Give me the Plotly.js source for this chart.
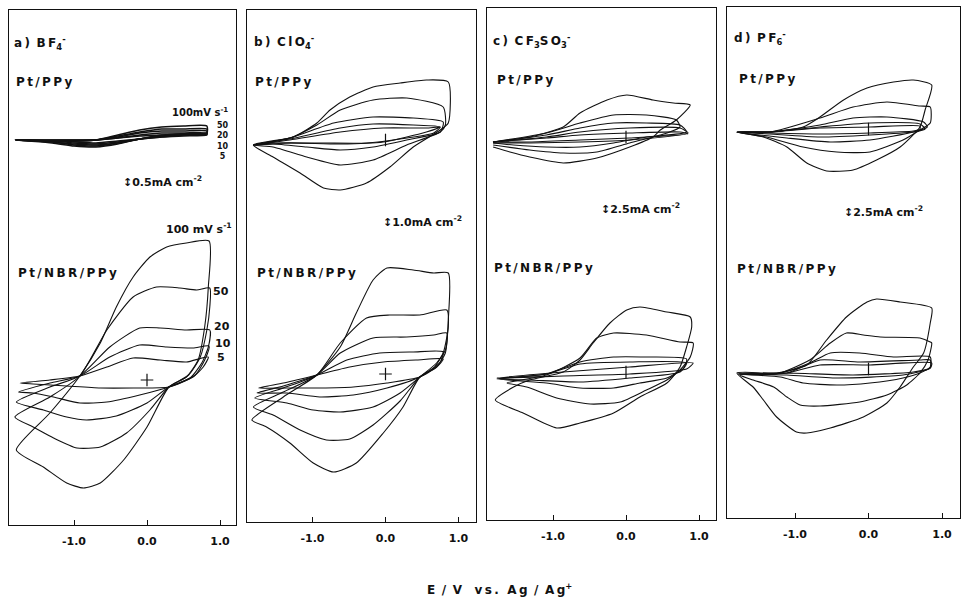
<!DOCTYPE html>
<html><head><meta charset="utf-8">
<script src="https://cdn.plot.ly/plotly-3.0.1.min.js"></script>
<style>html,body{margin:0;padding:0;background:#fff}#chart{width:961px;height:602px}</style>
</head><body><div id="chart"></div>
<script>
// Scan rates (mV s-1), order of every loop list below
const scanRates = ['100', '50', '20', '10', '5'];
const xTickVals = [-1, 0, 1];
const xTickText = ['-1.0', '0.0', '1.0'];
// currents in arbitrary units (relative to each film's zero line)

// ---- a) BF4-  Pt/PPy  (shared potential grid)
const aPPyE = [-1.80,-1.20,-0.70,-0.40,-0.10,0.20,0.50,0.82, 0.82,0.50,0.20,-0.10,-0.40,-0.70,-1.00,-1.30,-1.80];
const aPPyI = [
  [0,-1,0,5,10,13,14,14, 7,6,5,1,-4,-7,-6,-3,0],
  [0,-1,0,4,8,11,11,11, 7,6,4,1,-3,-6,-5,-2,0],
  [0,-1,0,3,7,9,9,9, 6,5,4,1,-3,-5,-4,-2,0],
  [0,0,0,2,5,7,7,7, 6,5,3,1,-2,-4,-3,-1,0],
  [0,0,0,2,4,5,6,6, 5,4,3,1,-1,-3,-2,-1,0]
];
// ---- a) BF4-  Pt/NBR/PPy
const aNbrE = [
  [-1.79,-1.33,-0.92,-0.64,-0.42,-0.19,0.04,0.27,0.54,0.85, 0.84,0.79,0.70,0.54,0.30,0.00,-0.32,-0.64,-0.87,-1.10,-1.42,-1.79],
  [-1.81,-1.33,-0.92,-0.55,-0.19,0.13,0.45,0.68,0.86, 0.86,0.82,0.73,0.57,0.30,0.04,-0.28,-0.64,-0.96,-1.28,-1.56,-1.81],
  [-1.79,-1.33,-0.92,-0.51,-0.10,0.18,0.54,0.86, 0.84,0.75,0.59,0.30,0.00,-0.42,-0.83,-1.10,-1.42,-1.79],
  [-1.76,-1.33,-0.92,-0.51,-0.10,0.27,0.63,0.85, 0.79,0.66,0.30,-0.10,-0.55,-0.92,-1.28,-1.56,-1.76],
  [-1.74,-1.33,-0.92,-0.55,-0.19,0.18,0.54,0.84, 0.77,0.63,0.30,-0.19,-0.64,-1.10,-1.56,-1.74]
];
const aNbrI = [
  [-67,-30,7,40,76,106,126,136,140,142, 96,56,23,6,-4,-44,-77,-100,-105,-100,-84,-67],
  [-34,-14,7,53,86,96,95,93,95, 76,53,26,8,-4,-27,-50,-64,-65,-55,-44,-34],
  [-19,-4,7,36,55,55,53,53, 36,20,5,-4,-20,-33,-37,-34,-27,-19],
  [-9,0,7,26,38,36,35,37, 23,8,-4,-12,-19,-20,-14,-10,-9],
  [0,3,7,16,25,23,21,26, 16,6,-4,-5,-5,-3,-1,0]
];
// ---- b) ClO4-  Pt/PPy
const bPPyE = [
  [-1.81,-1.26,-0.94,-0.76,-0.49,-0.17,0.20,0.56,0.86, 0.86,0.75,0.38,0.06,-0.26,-0.62,-0.85,-1.17,-1.54,-1.81],
  [-1.81,-1.31,-0.94,-0.62,-0.17,0.29,0.79, 0.82,0.75,0.29,-0.17,-0.62,-1.08,-1.54,-1.81],
  [-1.81,-1.31,-0.71,-0.17,0.38,0.79, 0.75,0.29,-0.17,-0.62,-1.08,-1.54,-1.81],
  [-1.81,-1.31,-0.62,-0.17,0.38,0.75, 0.66,0.20,-0.26,-0.85,-1.54,-1.81],
  [-1.81,-1.31,-0.62,-0.03,0.56,0.75, 0.56,-0.03,-0.62,-1.31,-1.81]
];
const bPPyI = [
  [-2,6,20,33,46,56,60,63,61, 20,13,-4,-24,-40,-47,-45,-30,-14,-2],
  [-2,5,18,33,43,45,36, 18,11,-2,-17,-22,-14,-4,-2],
  [-2,5,20,26,25,21, 11,3,-4,-7,-4,-1,-2],
  [-2,4,15,19,18,16, 10,4,0,0,0,-2],
  [-2,3,11,15,15,16, 11,1,-1,0,-2]
];
// ---- b) ClO4-  Pt/NBR/PPy
const bNbrE = [
  [-1.83,-1.40,-0.94,-0.62,-0.40,-0.17,0.02,0.38,0.66,0.86, 0.86,0.82,0.70,0.47,0.24,-0.03,-0.40,-0.71,-0.99,-1.31,-1.63,-1.83],
  [-1.81,-1.40,-0.94,-0.62,-0.26,0.06,0.47,0.84, 0.86,0.79,0.66,0.47,0.20,-0.17,-0.49,-0.81,-1.17,-1.54,-1.81],
  [-1.79,-1.40,-0.94,-0.62,-0.17,0.29,0.66,0.84, 0.82,0.70,0.47,0.20,-0.17,-0.62,-0.99,-1.35,-1.79],
  [-1.76,-1.40,-0.94,-0.53,-0.08,0.38,0.79, 0.75,0.47,0.02,-0.44,-0.90,-1.35,-1.76],
  [-1.74,-1.40,-0.94,-0.49,-0.03,0.43,0.79, 0.70,0.47,0.02,-0.44,-0.90,-1.35,-1.74]
];
const bNbrI = [
  [-43,-20,2,30,64,97,109,107,104,104, 57,24,10,0,-30,-56,-86,-95,-86,-66,-50,-43],
  [-30,-15,2,34,59,62,62,67, 50,24,9,0,-24,-48,-62,-63,-53,-38,-30],
  [-21,-11,2,24,39,40,42,44, 27,14,0,-16,-30,-35,-33,-26,-21],
  [-16,-9,2,17,24,25,25, 15,0,-11,-18,-20,-16,-16],
  [-11,-6,2,10,15,17,18, 10,0,-6,-10,-11,-11,-11]
];
// ---- c) CF3SO3-  Pt/PPy
const cPPyE = [
  [-1.82,-1.32,-0.86,-0.63,-0.26,0.01,0.37,0.65,0.88, 0.69,0.47,0.37,0.05,-0.40,-0.86,-1.32,-1.59,-1.82],
  [-1.82,-1.09,-0.63,-0.17,0.28,0.69, 0.74,0.56,0.05,-0.40,-0.86,-1.32,-1.82],
  [-1.82,-1.09,-0.63,-0.17,0.28,0.74, 0.83,0.28,-0.17,-0.63,-1.09,-1.54,-1.82],
  [-1.82,-1.09,-0.63,0.05,0.74, 0.85,0.05,-0.63,-1.32,-1.82],
  [-1.82,-1.09,-0.63,0.05,0.74, 0.85,0.05,-0.63,-1.32,-1.82]
];
const cPPyI = [
  [-2,3,13,27,40,45,40,37,35, 20,10,3,-7,-18,-23,-17,-12,-7],
  [-2,7,17,25,25,20, 13,7,-3,-12,-13,-10,-5],
  [-2,5,12,17,17,15, 8,3,-3,-7,-7,-5,-3],
  [-2,3,8,12,12, 7,0,-2,-3,-3],
  [-2,2,5,7,8, 6,2,0,-2,-2]
];
// ---- c) CF3SO3-  Pt/NBR/PPy
const cNbrE = [
  [-1.79,-1.54,-1.32,-0.86,-0.63,-0.45,-0.22,0.01,0.19,0.56,0.88, 0.90,0.83,0.74,0.56,0.19,-0.17,-0.63,-0.95,-1.41,-1.79],
  [-1.63,-1.09,-0.63,-0.40,-0.17,0.28,0.74,0.92, 0.88,0.74,0.56,0.28,-0.08,-0.49,-0.95,-1.36,-1.63],
  [-1.73,-1.09,-0.63,-0.17,0.28,0.83, 0.79,0.56,0.19,-0.17,-0.63,-1.09,-1.73],
  [-1.77,-1.09,-0.63,0.05,0.83, 0.74,0.05,-0.63,-1.32,-1.77],
  [-1.77,-0.86,0.05,0.92, 0.83,0.05,-0.86,-1.77]
];
const cNbrI = [
  [-25,-12,-5,3,15,32,52,65,68,63,58, 48,28,8,-8,-22,-38,-48,-53,-38,-25],
  [-8,0,17,37,42,40,33,32, 18,5,-5,-15,-27,-29,-23,-12,-8],
  [-4,1,13,18,18,16, 7,-3,-8,-13,-13,-8,-4],
  [-4,1,11,13,12, 3,-3,-7,-5,-4],
  [-3,3,8,12, 6,1,-1,-3]
];
// ---- d) PF6-  Pt/PPy
const dPPyE = [
  [-1.79,-1.34,-0.89,-0.66,-0.34,-0.02,0.34,0.61,0.86, 0.77,0.70,0.43,0.11,-0.21,-0.57,-0.84,-1.11,-1.43,-1.79],
  [-1.79,-1.34,-0.66,-0.21,0.25,0.70,0.84, 0.84,0.70,0.47,0.02,-0.43,-0.89,-1.39,-1.79],
  [-1.79,-1.34,-0.66,-0.21,0.25,0.75, 0.80,0.61,0.02,-0.52,-1.11,-1.79],
  [-1.79,-1.34,-0.66,0.02,0.70, 0.77,0.61,0.02,-0.66,-1.34,-1.79],
  [-1.79,-1.34,-0.66,0.02,0.70, 0.70,0.61,0.02,-0.66,-1.34,-1.79]
];
const dPPyI = [
  [0,0,5,15,32,44,50,52,47, 22,5,-15,-28,-38,-39,-31,-15,-5,0],
  [0,0,14,25,30,26,25, 9,2,-8,-20,-20,-15,-5,0],
  [0,0,7,14,15,10, 5,0,-8,-10,-6,0],
  [0,0,5,9,8, 3,0,-3,-5,-2,0],
  [0,0,4,5,6, 3,1,-1,-2,-1,0]
];
// ---- d) PF6-  Pt/NBR/PPy
const dNbrE = [
  [-1.79,-1.25,-0.84,-0.57,-0.30,-0.02,0.11,0.43,0.86, 0.84,0.75,0.61,0.43,0.25,-0.07,-0.52,-0.84,-0.98,-1.25,-1.43,-1.57,-1.79],
  [-1.75,-1.25,-0.80,-0.52,-0.30,-0.07,0.16,0.70,0.84, 0.86,0.81,0.70,0.52,0.25,-0.12,-0.66,-0.93,-1.11,-1.29,-1.57,-1.75],
  [-1.77,-1.20,-0.80,-0.52,-0.12,0.34,0.84, 0.84,0.70,0.47,0.02,-0.43,-0.89,-1.20,-1.77],
  [-1.77,-1.11,-0.66,-0.12,0.70,0.84, 0.84,0.47,-0.43,-1.11,-1.77],
  [-1.77,-1.11,-0.66,0.02,0.86, 0.84,0.61,-0.21,-1.11,-1.77]
];
const dNbrI = [
  [-1,-1,7,32,55,70,73,70,64, 49,19,5,-15,-31,-45,-56,-61,-60,-45,-28,-15,-1],
  [-3,-2,12,29,39,37,35,34,30, 29,12,-1,-13,-23,-30,-34,-33,-25,-15,-8,-3],
  [-2,-1,9,19,19,15,15, 5,-1,-6,-11,-13,-11,-5,-2],
  [-2,-1,12,10,12,12, 4,-3,-6,-3,-2],
  [-2,-1,7,7,9, 4,0,-3,-1,-2]
];

// ---------- layout geometry (pixels of the 961x602 page) ----------
const W = 961, H = 602;
const panels = [
  {box:[9,236,10,525],  zero:147,   pxPerV:73,   baseTop:140, baseBot:383, top:[aPPyE,aPPyI], bot:[aNbrE,aNbrI], mTop:null, mBot:'cross-thin', wTop:1.5},
  {box:[247,476,10,522],zero:385.5, pxPerV:73,   baseTop:143, baseBot:377, top:[bPPyE,bPPyI], bot:[bNbrE,bNbrI], mTop:'line-ns', mBot:'cross-thin', wTop:1.1},
  {box:[487,716,8,520], zero:626,   pxPerV:73,   baseTop:140, baseBot:375, top:[cPPyE,cPPyI], bot:[cNbrE,cNbrI], mTop:'line-ns', mBot:'line-ns', wTop:1.1},
  {box:[727,960,7,518], zero:868.5, pxPerV:73.5, baseTop:132, baseBot:372, top:[dPPyE,dPPyI], bot:[dNbrE,dNbrI], mTop:'line-ns', mBot:'line-ns', wTop:1.1}
];

const traces = [];
const layout = {
  width: W, height: H, margin:{l:0,r:0,t:0,b:0},
  paper_bgcolor:'#fff', plot_bgcolor:'rgba(0,0,0,0)', showlegend:false,
  annotations: []
};
panels.forEach((p, n) => {
  const [x0, x1, y0, y1] = p.box;
  const sfx = n === 0 ? '' : String(n + 1);
  const xr = [(x0 - p.zero) / p.pxPerV, (x1 - p.zero) / p.pxPerV];
  const yr = [-(y1 - p.baseBot), (p.baseBot - y0)];
  const offTop = p.baseBot - p.baseTop;
  layout['xaxis' + sfx] = {
    domain:[x0 / W, x1 / W], range: xr, anchor:'y' + sfx,
    showline:true, linecolor:'#111', linewidth:1.3, mirror:true,
    ticks:'inside', ticklen:5, tickwidth:1, tickcolor:'#111',
    tickvals: xTickVals, ticktext: xTickText, ticklabelstandoff: 5,
    tickfont:{family:'DejaVu Sans', size:11, color:'#111', weight:'bold'},
    showgrid:false, zeroline:false, fixedrange:true
  };
  layout['yaxis' + sfx] = {
    domain:[1 - y1 / H, 1 - y0 / H], range: yr, anchor:'x' + sfx,
    showline:true, linecolor:'#111', linewidth:1.3, mirror:true,
    ticks:'', showticklabels:false, showgrid:false, zeroline:false, fixedrange:true
  };
  [[p.top, offTop, p.mTop, p.wTop], [p.bot, 0, p.mBot, 1.1]].forEach(([grp, off, mk, lw]) => {
    const [E, I] = grp;
    I.forEach((cur, k) => {
      const ex = Array.isArray(E[0]) ? E[k] : E;
      traces.push({
        type:'scatter', mode:'lines', x: ex, y: cur.map(v => v + off),
        xaxis:'x' + sfx, yaxis:'y' + sfx, hoverinfo:'skip',
        name: scanRates[k] + ' mV s-1',
        line:{color:'#111', width:lw, shape:'spline', smoothing:0.6}
      });
    });
    if (mk) {
      traces.push({type:'scatter', mode:'markers', x:[0], y:[off + 3], xaxis:'x' + sfx, yaxis:'y' + sfx,
        hoverinfo:'skip', marker:{symbol:mk, size:9, line:{color:'#111', width:1.2}}});
    }
  });
});

function spaced(s) {
  let out = '', inTag = false;
  for (let i = 0; i < s.length; i++) {
    const c = s[i];
    if (c === '<') inTag = true;
    out += c;
    if (c === '>') { inTag = false; continue; }
    if (!inTag && i < s.length - 1 && s[i + 1] !== '<' && c !== ' ') out += '\u2009';
  }
  return out;
}
function ann(text, x, y, anchor, size) {
  layout.annotations.push({xref:'paper', yref:'paper', x: x / W, y: 1 - y / H,
    xanchor: anchor || 'left', yanchor:'middle', showarrow:false, text: text, borderpad:0,
    align: anchor === 'center' ? 'center' : (anchor || 'left'),
    font:{family:'DejaVu Sans', size: size || 12, color:'#111', weight:'bold'}});
}
// panel titles and film labels
ann(spaced('a) BF<sub>4</sub><sup>-</sup>'), 13, 43, 'left', 12);
ann(spaced('b) ClO<sub>4</sub><sup>-</sup>'), 253, 42, 'left', 12);
ann(spaced('c) CF<sub>3</sub>SO<sub>3</sub><sup>-</sup>'), 492, 41, 'left', 12);
ann(spaced('d) PF<sub>6</sub><sup>-</sup>'), 733, 38, 'left', 12);
[15, 254, 496, 738].forEach((x, n) => ann(spaced('Pt/PPy'), x, [82, 82, 80, 79][n], 'left', 12));
[17, 256, 493, 736].forEach((x, n) => ann(spaced('Pt/NBR/PPy'), x, [273, 273, 268, 269][n], 'left', 12));
// scan rate labels in panel a (upper stack drawn as one block)
ann('100mV s<sup>-1</sup>', 229, 112, 'right', 10);
ann(scanRates.slice(1).join('<br>'), 223, 141, 'center', 8);
ann('100 mV s<sup>-1</sup>', 233, 228, 'right', 11);
ann('50', 212, 291, 'left', 11);
ann('20', 213, 327, 'left', 11);
ann('10', 214, 343, 'left', 11);
ann('5', 216, 357, 'left', 11);
// current scale bars
ann('\u21950.5mA cm<sup>-2</sup>', 122, 181, 'left', 11);
ann('\u21951.0mA cm<sup>-2</sup>', 382, 222, 'left', 11);
ann('\u21952.5mA cm<sup>-2</sup>', 600, 208, 'left', 11);
ann('\u21952.5mA cm<sup>-2</sup>', 843, 212, 'left', 11);
// common x-axis title
ann(spaced('E / V') + ' &nbsp;&nbsp;' + spaced('vs.') + ' &nbsp;' + spaced('Ag / Ag<sup>+</sup>'), 500, 589, 'center', 12);

Plotly.newPlot('chart', traces, layout, {staticPlot:true, displayModeBar:false});
</script></body></html>
